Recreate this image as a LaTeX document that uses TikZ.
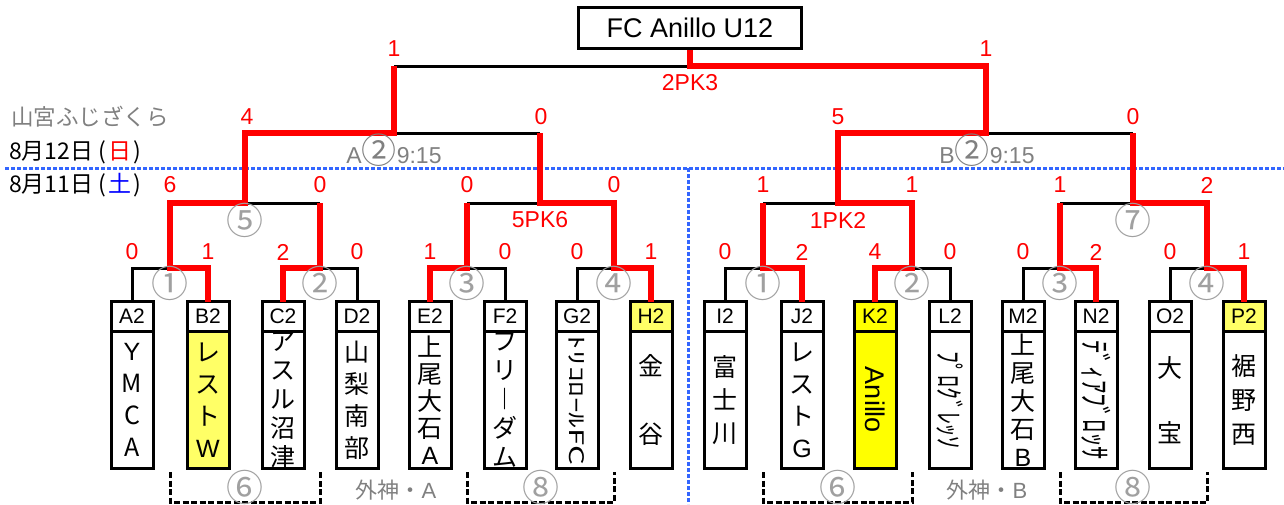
\documentclass[tikz,border=0pt]{standalone}
\usepackage{fontspec}
\setmainfont{Liberation Sans}
\newfontfamily\jp{Noto Sans CJK JP}
\usetikzlibrary{positioning}
\definecolor{winred}{RGB}{255,0,0}
\definecolor{dayblue}{RGB}{0,0,255}
\definecolor{lineblue}{RGB}{51,102,255}
\definecolor{txtgray}{RGB}{128,128,128}
\definecolor{numgray}{RGB}{160,160,160}
\definecolor{paleyel}{RGB}{255,255,102}
\definecolor{winyel}{RGB}{255,255,0}
\tikzset{
    code/.style={
        draw, rectangle, line width=3pt,
        minimum width=42pt, minimum height=30pt,
        inner sep=0pt, outer sep=0pt,
        font=\fontsize{21}{21}\selectfont
    },
    team/.style={
        draw, rectangle, line width=3pt,
        minimum width=42pt, minimum height=137pt,
        inner sep=0pt, outer sep=0pt, align=center
    },
    tate/.style={team, font=\jp\fontsize{25}{#1}\selectfont},
    yoko/.style={team, font=\jp\fontsize{#1}{#1}\selectfont},
    titlebox/.style={
        draw, rectangle, line width=3pt,
        minimum width=223pt, minimum height=41pt,
        font=\fontsize{27}{27}\selectfont
    },
    bk/.style={line width=3pt, black},
    rd/.style={line width=5.5pt, winred},
    score/.style={text=winred, inner sep=0pt, font=\fontsize{23}{23}\selectfont},
    circ/.style={text=numgray, inner sep=0pt, font=\jp\fontsize{37}{37}\selectfont},
    match/.style={text=txtgray, inner sep=0pt, font=\fontsize{23}{23}\selectfont},
    area/.style={text=txtgray, inner sep=0pt, font=\jp\fontsize{22}{22}\selectfont},
    date/.style={anchor=west, inner sep=0pt, font=\jp\fontsize{23}{23}\selectfont},
    group/.style={line width=3pt, dash pattern=on 6pt off 2.5pt},
    day/.style={line width=3pt, lineblue, dash pattern=on 4pt off 2pt}
}
\begin{document}
\begin{tikzpicture}[x=1pt, y=-1pt]
\useasboundingbox (0,0) rectangle (1284,504);

\draw[day] (5,168) -- (1284,168);
\draw[day] (688,168) -- (688,504);

\node[date, text=txtgray, font=\jp\fontsize{22.5}{22.5}\selectfont] (venue) at (11,117) {山宮ふじざくら};
\node[date] (day2) at (9,152) {8月12日\hspace{5pt}(\hspace{2pt}\textcolor{winred}{日}\hspace{2pt})};
\node[date] (day1) at (9,185) {8月11日\hspace{5pt}(\hspace{2pt}\textcolor{dayblue}{土}\hspace{2pt})};

\node[titlebox] (top) at (690,28) {FC Anillo U12};

\foreach \t/\x/\f in {A/132/white, B/208/white, C/283/white, D/357/white,
    E/430/white, F/505/white, G/577/white, H/651/paleyel,
    I/725/white, J/802/white, K/875/winyel, L/950/white,
    M/1023/white, N/1096/white, O/1170/white, P/1244/paleyel}
  \node[code, fill=\f] (t\t) at (\x,316.5) {\t2};

\node[tate=32, below=0pt of tA] (nA) {\rmfamily Y\\M\\C\\A};
\node[tate=32, below=0pt of tB, fill=paleyel] (nB) {レ\\ス\\ト\\{\rmfamily W}};
\node[tate=29, below=0pt of tC] (nC) {ア\\ス\\ル\\沼\\津};
\node[tate=32, below=0pt of tD] (nD) {山\\梨\\南\\部};
\node[tate=27, below=0pt of tE] (nE) {上\\尾\\大\\石\\{\rmfamily A}};
\node[tate=29, below=0pt of tF] (nF) {フ\\リ\\︱\\ダ\\ム};
\node[yoko=20, below=0pt of tG] (nG) {\rotatebox{-90}{\scalebox{1.56}[1]{ﾄﾘｺﾛｰﾙFC}}};
\node[tate=68, below=0pt of tH] (nH) {金\\谷};
\node[tate=33, below=0pt of tI] (nI) {富\\士\\川};
\node[tate=32, below=0pt of tJ] (nJ) {レ\\ス\\ト\\{\rmfamily G}};
\node[team, below=0pt of tK, fill=winyel] (nK) {\rotatebox{-90}{\fontsize{27}{27}\selectfont Anillo}};
\node[yoko=29, below=0pt of tL] (nL) {\rotatebox{-90}{\scalebox{0.83}[1]{ﾌﾟﾛｸﾞﾚｯｿ}}};
\node[tate=28, below=0pt of tM] (nM) {上\\尾\\大\\石\\{\rmfamily B}};
\node[yoko=32, below=0pt of tN] (nN) {\rotatebox{-90}{\scalebox{0.83}[1]{ﾃﾞｨｱﾌﾞﾛｯｻ}}};
\node[tate=65, below=0pt of tO] (nO) {大\\宝};
\node[tate=34, below=0pt of tP] (nP) {裾\\野\\西};

\coordinate (r1a) at (170,268);
\coordinate (r1b) at (320,268);
\coordinate (r1c) at (467,268);
\coordinate (r1d) at (614,268);
\coordinate (r1e) at (763,268);
\coordinate (r1f) at (912,268);
\coordinate (r1g) at (1060,268);
\coordinate (r1h) at (1207,268);
\coordinate (r2a) at (245,203);
\coordinate (r2b) at (540,203);
\coordinate (r2c) at (838,203);
\coordinate (r2d) at (1133,203);
\coordinate (r3a) at (394,133);
\coordinate (r3b) at (986,133);
\coordinate (fin) at (690,66);

\draw[bk] (tA.north) |- (r1a);
\draw[bk] (tD.north) |- (r1b);
\draw[bk] (tF.north) |- (r1c);
\draw[bk] (tG.north) |- (r1d);
\draw[bk] (tI.north) |- (r1e);
\draw[bk] (tL.north) |- (r1f);
\draw[bk] (tM.north) |- (r1g);
\draw[bk] (tO.north) |- (r1h);
\draw[bk] (r1b |- r2a) -- (r2a);
\draw[bk] (r1c |- r2b) -- (r2b);
\draw[bk] (r1e |- r2c) -- (r2c);
\draw[bk] (r1g |- r2d) -- (r2d);
\draw[bk] (r2b |- r3a) -- (r3a);
\draw[bk] (r2d |- r3b) -- (r3b);
\draw[bk] (r3a |- fin) -- (fin);

\draw[rd] (tB.north) |- (r1a) |- (r2a) |- (r3a) -- (r3a |- fin);
\draw[rd] (tC.north) |- (r1b) -- (r1b |- r2a);
\draw[rd] (tE.north) |- (r1c) -- (r1c |- r2b);
\draw[rd] (tH.north) |- (r1d) |- (r2b) -- (r2b |- r3a);
\draw[rd] (tJ.north) |- (r1e) -- (r1e |- r2c);
\draw[rd] (tK.north) |- (r1f) |- (r2c) |- (r3b) |- (fin) -- (top.south);
\draw[rd] (tN.north) |- (r1g) -- (r1g |- r2d);
\draw[rd] (tP.north) |- (r1h) |- (r2d) -- (r2d |- r3b);

\foreach \x/\s in {132/0, 208/1, 283/2, 357/0, 430/1, 505/0, 577/0, 651/1,
    725/0, 802/2, 875/4, 950/0, 1023/0, 1096/2, 1170/0, 1244/1}
  \node[score] (sa-\x) at (\x,252) {\s};
\foreach \x/\s in {170/6, 320/0, 467/0, 614/0, 763/1, 912/1, 1060/1, 1207/2}
  \node[score] (sb-\x) at (\x,185) {\s};
\foreach \x/\s in {247/4, 541/0, 838/5, 1133/0}
  \node[score] (sc-\x) at (\x,117) {\s};
\node[score] (sfl) at (394,49) {1};
\node[score] (sfr) at (986,49) {1};
\node[score] (pka) at (540,220) {5PK6};
\node[score] (pkb) at (838,220) {1PK2};
\node[score] (pkf) at (690,83) {2PK3};

\foreach \x/\c in {170/①, 320/②, 467/③, 614/④, 763/①, 912/②, 1060/③, 1207/④}
  \node[circ] (ca-\x) at (\x,283) {\c};
\node[circ] (c5) at (245,220) {⑤};
\node[circ] (c7) at (1133,220) {⑦};

\node[match] (ma) at (394,150) {A{\jp\fontsize{35}{35}\selectfont ②}9:15};
\node[match] (mb) at (987,150) {B{\jp\fontsize{35}{35}\selectfont ②}9:15};

\draw[group] (170,472) -- (170,502) -- (320,502) -- (320,472);
\draw[group] (467,472) -- (467,502) -- (614,502) -- (614,472);
\draw[group] (763,472) -- (763,502) -- (912,502) -- (912,472);
\draw[group] (1060,472) -- (1060,502) -- (1207,502) -- (1207,472);
\foreach \x/\c in {245/⑥, 541/⑧, 838/⑥, 1133/⑧}
  \node[circ] (g-\x) at (\x,487) {\c};
\node[area] (sta) at (396,490) {外神・{\rmfamily A}};
\node[area] (stb) at (987,490) {外神・{\rmfamily B}};
\end{tikzpicture}
\end{document}
